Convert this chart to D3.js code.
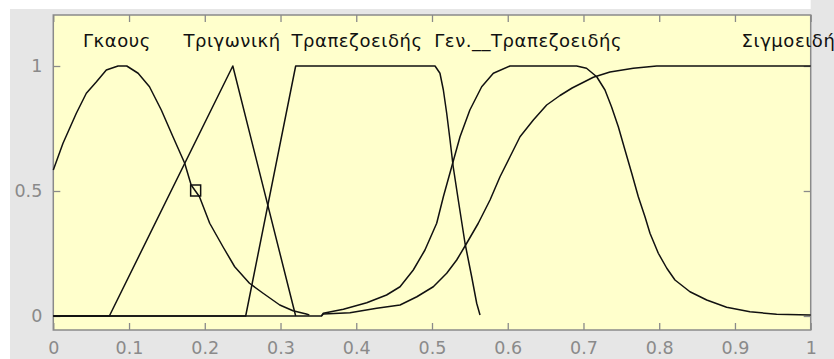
<!DOCTYPE html>
<html>
<head>
<meta charset="utf-8">
<script src="https://cdn.jsdelivr.net/npm/d3@7"></script>
<style>
  html, body { margin: 0; padding: 0; background: #ffffff; }
  svg { display: block; }
</style>
</head>
<body>
<svg id="chart" width="834" height="359"></svg>
<script>
// Membership function curves, as [x, degree] points
const gaussian = [
  [0, 0.584], [0.0128, 0.691], [0.0304, 0.811], [0.0436, 0.891], [0.057, 0.937],
  [0.070, 0.984], [0.0855, 1.0], [0.097, 1.0], [0.112, 0.971], [0.127, 0.917],
  [0.1426, 0.824], [0.158, 0.717], [0.1735, 0.611], [0.182, 0.524], [0.193, 0.477],
  [0.2065, 0.371], [0.224, 0.277], [0.2395, 0.197], [0.259, 0.131], [0.277, 0.091],
  [0.299, 0.044], [0.3165, 0.021], [0.334, 0.008], [0.338, 0.004]
];
const triangular = [[0, 0], [0.074, 0], [0.237, 1], [0.32, 0]];
const trapezoidal = [
  [0, 0], [0.254, 0], [0.32, 1], [0.504, 1], [0.5105, 0.971], [0.515, 0.904],
  [0.5194, 0.811], [0.5238, 0.704], [0.528, 0.597], [0.5347, 0.464], [0.5436, 0.291],
  [0.5524, 0.157], [0.559, 0.051], [0.5634, 0.004]
];
const genTrapezoidal = [
  [0, 0], [0.354, 0], [0.3565, 0.011], [0.383, 0.027], [0.4138, 0.053], [0.440, 0.084],
  [0.4578, 0.117], [0.4753, 0.184], [0.4907, 0.264], [0.5062, 0.371], [0.515, 0.477],
  [0.526, 0.597], [0.537, 0.717], [0.550, 0.824], [0.5656, 0.917], [0.581, 0.971],
  [0.603, 1.0], [0.691, 1.0], [0.704, 0.991], [0.7175, 0.957], [0.7284, 0.904],
  [0.737, 0.837], [0.746, 0.757], [0.7548, 0.664], [0.7637, 0.571], [0.7724, 0.477],
  [0.7812, 0.397], [0.7878, 0.331], [0.7988, 0.251], [0.81, 0.191], [0.8208, 0.144],
  [0.8406, 0.097], [0.8627, 0.064], [0.889, 0.035], [0.9198, 0.017], [0.955, 0.007],
  [1.0, 0.004]
];
const sigmoidal = [
  [0.354, 0], [0.3565, 0.008], [0.3917, 0.013], [0.427, 0.031], [0.4578, 0.044],
  [0.48, 0.077], [0.5017, 0.117], [0.5194, 0.171], [0.5326, 0.224], [0.5458, 0.291],
  [0.5611, 0.371], [0.5766, 0.464], [0.5898, 0.557], [0.603, 0.637], [0.6162, 0.717],
  [0.6338, 0.784], [0.6514, 0.844], [0.669, 0.882], [0.685, 0.912], [0.70, 0.935],
  [0.713, 0.955], [0.735, 0.976], [0.7658, 0.991], [0.7967, 1.0], [1.0, 1.0]
];

// Curve names and where their labels sit along x
const mfNames = ["Γκαους", "Τριγωνική", "Τραπεζοειδής", "Γεν.__Τραπεζοειδής", "Σιγμοειδής"];
const labelX = [0.084, 0.236, 0.401, 0.627, 0.978];

// Axis ticks
const xTicks = [0, 0.1, 0.2, 0.3, 0.4, 0.5, 0.6, 0.7, 0.8, 0.9, 1];
const xTickLabels = ["0", "0.1", "0.2", "0.3", "0.4", "0.5", "0.6", "0.7", "0.8", "0.9", "1"];
const yTicks = [0, 0.5, 1];
const yTickLabels = ["0", "0.5", "1"];

const svg = d3.select("#chart");
const W = 834, H = 359;
const box = { left: 53.3, right: 810.7, top: 15, bottom: 330 };

const x = d3.scaleLinear().domain([0, 1]).range([box.left, box.right]);
const y = d3.scaleLinear().domain([-0.056, 1.204]).range([box.bottom, box.top]);

// Figure background
svg.append("rect").attr("x", 10).attr("y", 9).attr("width", W - 10).attr("height", H - 9)
  .attr("fill", "#e6e6e6");
svg.append("rect").attr("x", box.right).attr("y", 0).attr("width", W - box.right).attr("height", 9)
  .attr("fill", "#e6e6e6");

// Plot area
svg.append("rect")
  .attr("x", box.left).attr("y", box.top)
  .attr("width", box.right - box.left).attr("height", box.bottom - box.top)
  .attr("fill", "#ffffcc");

const tickColor = "#8a8a8a";
const font = "'DejaVu Sans', 'Liberation Sans', sans-serif";

// Axes: ticks point inward on all four sides
const tickLen = 7;
const xBottom = d3.axisBottom(x).tickValues(xTicks).tickSizeInner(-tickLen).tickSizeOuter(0)
  .tickPadding(12).tickFormat((d, i) => xTickLabels[i]);
const xTop = d3.axisTop(x).tickValues(xTicks).tickSizeInner(-tickLen).tickSizeOuter(0)
  .tickFormat(() => "");
const yLeft = d3.axisLeft(y).tickValues(yTicks).tickSizeInner(-tickLen).tickSizeOuter(0)
  .tickPadding(11).tickFormat((d, i) => yTickLabels[i]);
const yRight = d3.axisRight(y).tickValues(yTicks).tickSizeInner(-tickLen).tickSizeOuter(0)
  .tickFormat(() => "");

function styleAxis(g) {
  g.select(".domain").remove();
  g.selectAll(".tick line").attr("stroke", tickColor).attr("stroke-width", 1.3);
  g.selectAll(".tick text").attr("fill", tickColor)
    .style("font-family", font).style("font-size", "17.5px");
}

svg.append("g").attr("transform", `translate(0,${box.bottom})`).call(xBottom).call(styleAxis);
svg.append("g").attr("transform", `translate(0,${box.top})`).call(xTop).call(styleAxis);
svg.append("g").attr("transform", `translate(${box.left},0)`).call(yLeft).call(styleAxis);
svg.append("g").attr("transform", `translate(${box.right},0)`).call(yRight).call(styleAxis);

// Box around the plot area
svg.append("rect")
  .attr("x", box.left).attr("y", box.top)
  .attr("width", box.right - box.left).attr("height", box.bottom - box.top)
  .attr("fill", "none").attr("stroke", tickColor).attr("stroke-width", 1.5);

// Membership function curves
const line = d3.line().x(d => x(d[0])).y(d => y(d[1]));
const curves = [gaussian, triangular, trapezoidal, genTrapezoidal, sigmoidal];
svg.append("g").selectAll("path").data(curves).join("path")
  .attr("d", line)
  .attr("fill", "none")
  .attr("stroke", "#111")
  .attr("stroke-width", 1.5)
  .attr("stroke-linejoin", "round");

// Selection marker on the Gaussian curve
const mk = gaussian[13];
svg.append("rect")
  .attr("x", x(mk[0]) - 0.5).attr("y", y(mk[1]))
  .attr("width", 10).attr("height", 11)
  .attr("fill", "none").attr("stroke", "#111").attr("stroke-width", 1.5);

// Curve names, with letter spacing opened up so the names read wide like the editor font
const names = svg.append("g").selectAll("text").data(mfNames).join("text")
  .attr("x", (d, i) => x(labelX[i]))
  .attr("y", 47)
  .attr("text-anchor", "middle")
  .attr("fill", "#111")
  .style("font-family", font)
  .style("font-size", "18px")
  .text(d => d);
const ref = names.filter((d, i) => i === 2).node();
const spacing = Math.max(0, (131 - ref.getComputedTextLength()) / 12);
names.style("letter-spacing", spacing + "px");
</script>
</body>
</html>
